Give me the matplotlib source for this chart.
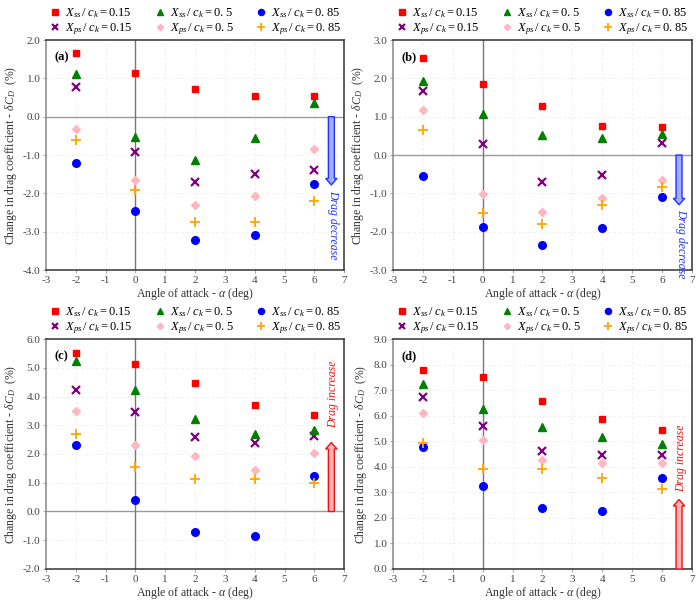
import numpy as np
import matplotlib
matplotlib.use('Agg')
import matplotlib.pyplot as plt
from matplotlib.patches import FancyArrow

plt.rcParams['font.family'] = 'Liberation Serif'
plt.rcParams['mathtext.fontset'] = 'custom'
plt.rcParams['mathtext.rm'] = 'Liberation Serif'
plt.rcParams['mathtext.it'] = 'Liberation Serif:italic'
plt.rcParams['mathtext.bf'] = 'Liberation Serif:bold'
plt.rcParams['axes.unicode_minus'] = False

# angle of attack (deg)
alpha = [-2, 0, 2, 4, 6]

# panel (a)
a_ss015 = [1.66, 1.14, 0.73, 0.54, 0.54]
a_ss05 = [1.11, -0.53, -1.14, -0.55, 0.35]
a_ss085 = [-1.21, -2.45, -3.22, -3.09, -1.75]
a_ps015 = [0.78, -0.92, -1.70, -1.49, -1.38]
a_ps05 = [-0.33, -1.65, -2.31, -2.08, -0.85]
a_ps085 = [-0.62, -1.91, -2.75, -2.74, -2.20]

# panel (b)
b_ss015 = [2.53, 1.85, 1.28, 0.75, 0.72]
b_ss05 = [1.93, 1.06, 0.52, 0.45, 0.54]
b_ss085 = [-0.56, -1.89, -2.34, -1.91, -1.09]
b_ps015 = [1.66, 0.30, -0.70, -0.51, 0.32]
b_ps05 = [1.18, -1.02, -1.49, -1.13, -0.64]
b_ps085 = [0.65, -1.51, -1.80, -1.31, -0.84]

# panel (c)
c_ss015 = [5.51, 5.12, 4.48, 3.69, 3.35]
c_ss05 = [5.22, 4.21, 3.23, 2.70, 2.82]
c_ss085 = [2.30, 0.40, -0.70, -0.86, 1.25]
c_ps015 = [4.24, 3.45, 2.59, 2.39, 2.61]
c_ps05 = [3.48, 2.32, 1.92, 1.45, 2.05]
c_ps085 = [2.68, 1.56, 1.13, 1.14, 1.00]

# panel (d)
d_ss015 = [7.78, 7.52, 6.57, 5.87, 5.45]
d_ss05 = [7.25, 6.27, 5.57, 5.17, 4.91]
d_ss085 = [4.78, 3.23, 2.40, 2.27, 3.58]
d_ps015 = [6.74, 5.60, 4.60, 4.47, 4.48]
d_ps05 = [6.09, 5.03, 4.25, 4.14, 4.14]
d_ps085 = [4.92, 3.91, 3.91, 3.55, 3.12]

labels = [r'$X_{ss}\,/\;c_k = $0.15', r'$X_{ps}\,/\;c_k = $0.15',
          r'$X_{ss}\,/\;c_k = $0. 5', r'$X_{ps}\,/\;c_k = $0. 5',
          r'$X_{ss}\,/\;c_k = $0. 85', r'$X_{ps}\,/\;c_k = $0. 85']
# marker styles in legend order (column-wise)
styles = [dict(marker='s', color='#ff0000', ms=5),
          dict(marker='x', color='#800080', ms=5.5, mew=1.6),
          dict(marker='^', color='#008000', ms=5.5),
          dict(marker='D', color='#ffb6c1', ms=4),
          dict(marker='o', color='#0000ff', ms=5.5),
          dict(marker='+', color='#ffa500', ms=7, mew=1.3)]

panels = [
    ('(a)', [a_ss015, a_ps015, a_ss05, a_ps05, a_ss085, a_ps085], (-4, 2), (-1.78, 'Drag decrease', -1.92)),
    ('(b)', [b_ss015, b_ps015, b_ss05, b_ps05, b_ss085, b_ps085], (-3, 3), (-1.30, 'Drag decrease', -1.42)),
    ('(c)', [c_ss015, c_ps015, c_ss05, c_ps05, c_ss085, c_ps085], (-2, 6), (2.40, 'Drag increase', 2.90)),
    ('(d)', [d_ss015, d_ps015, d_ss05, d_ps05, d_ss085, d_ps085], (0, 9), (2.72, 'Drag increase', 3.00)),
]

positions = [[0.0657, 0.5522, 0.426, 0.3814], [0.5614, 0.5522, 0.427, 0.3814],
             [0.0657, 0.0564, 0.426, 0.3814], [0.5614, 0.0564, 0.427, 0.3814]]

fig = plt.figure(figsize=(7, 6.03), dpi=100)

for pos, (tag, series, ylim, arrow) in zip(positions, panels):
    ax = fig.add_axes(pos)
    ax.set_xlim(-3, 7)
    ax.set_ylim(*ylim)
    ax.set_xticks(range(-3, 8))
    yt = np.arange(ylim[0], ylim[1] + 0.01, 1.0)
    ax.set_yticks(yt)
    ax.set_yticklabels(['%.1f' % v for v in yt])
    ax.set_axisbelow(True)
    ax.grid(True, color='#ececec', linestyle=(0, (3, 3)), linewidth=0.6, zorder=0)
    ax.axhline(0, color='#9a9a9a', lw=1, zorder=2)
    ax.axvline(0, color='#777777', lw=1, zorder=2)
    for sp in ax.spines.values():
        sp.set_color('#333333')
        sp.set_linewidth(1.1)
    ax.spines['left'].set_color('#888888')
    ax.tick_params(labelsize=8, length=2, color='#aaaaaa', labelcolor='#444444', pad=2)

    handles = []
    for vals, st in zip(series, styles):
        h, = ax.plot(alpha, vals, linestyle='none', marker=st['marker'], color=st['color'],
                     markersize=st['ms'], markeredgewidth=st.get('mew', 1), zorder=3)
        handles.append(h)

    ax.legend(handles, labels, ncol=3, frameon=False, loc='lower left',
              bbox_to_anchor=(0.0, 1.0, 1.0, 0.2), mode='expand', fontsize=9,
              handletextpad=0.3, borderaxespad=0.05, labelspacing=0.12, handlelength=1.0,
              borderpad=0.2, markerscale=0.8)

    ax.text(0.03, 0.95, tag, transform=ax.transAxes, fontsize=9, fontweight='bold',
            va='top', ha='left')
    ax.set_xlabel(r'Angle of attack - $\alpha$ (deg)', fontsize=8.5, labelpad=1, color='#333333')
    ax.set_ylabel(r'Change in drag coefficient - $\delta C_D$  (%)', fontsize=8.5, labelpad=3,
                  color='#333333')

    tip, txt, ty = arrow
    hl = 0.17 * (ylim[1] - ylim[0]) / 6
    if tip < 0:
        arr = FancyArrow(6.57, 0, 0, tip, width=0.2, head_width=0.38, head_length=hl,
                         length_includes_head=True, facecolor='#a3acff', edgecolor='#2233ff',
                         lw=1, zorder=4)
        ax.add_patch(arr)
        ax.text(6.64, ty, txt, rotation=-90, color='#2233ff', fontsize=8.5, style='italic',
                ha='center', va='top', zorder=4)
    else:
        arr = FancyArrow(6.57, 0, 0, tip, width=0.2, head_width=0.38, head_length=hl,
                         length_includes_head=True, facecolor='#ffb0b0', edgecolor='#ee1111',
                         lw=1, zorder=4)
        ax.add_patch(arr)
        ax.text(6.64, ty, txt, rotation=90, color='#ee1111', fontsize=8.5, style='italic',
                ha='center', va='bottom', zorder=4)

fig.savefig('out.png', dpi=100)
